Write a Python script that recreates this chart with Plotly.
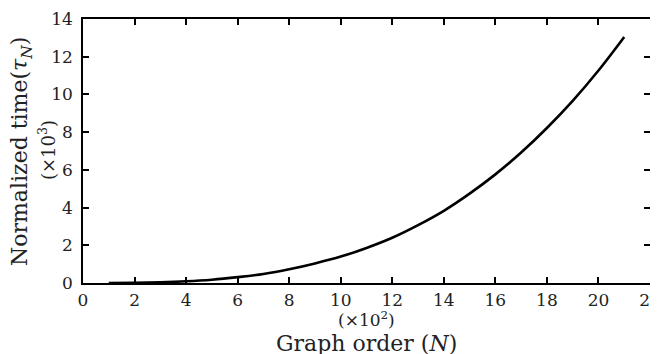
import plotly.graph_objects as go

# Graph order N (x10^2)
graph_order = [1, 2, 3, 4, 5, 6, 7, 8, 9, 10, 11, 12, 13, 14, 15, 16, 17, 18, 19, 20, 21]
# Normalized time tau_N (x10^3)
normalized_time = [0.002, 0.011, 0.038, 0.09, 0.176, 0.31, 0.48, 0.73, 1.04, 1.40,
                   1.86, 2.40, 3.07, 3.83, 4.74, 5.76, 6.92, 8.22, 9.66, 11.27, 13.05]

x_ticks = list(range(0, 23, 2))
y_ticks = list(range(0, 15, 2))

FONT = "DejaVu Serif"
OFF = 8  # page body margin of the browser
W, H = 658 - OFF, 354 - OFF
L, R, T, B = 83 - OFF, 8, 19 - OFF, 354 - 283
pw, ph = W - L - R, H - T - B

def px(x):
    return (x - OFF - L) / pw

def py(y):
    return (T + ph - (y - OFF)) / ph

fig = go.Figure()
fig.add_trace(go.Scatter(x=graph_order, y=normalized_time, mode="lines",
                         line=dict(color="black", width=2.6, shape="spline"),
                         showlegend=False, cliponaxis=False))

axis_common = dict(showline=True, linecolor="black", linewidth=1.6, mirror="ticks",
                   ticks="inside", ticklen=6, tickwidth=1.5, tickcolor="black",
                   showgrid=False, zeroline=False, automargin=False,
                   ticklabeloverflow="allow",
                   tickfont=dict(family=FONT, size=17, color="#222"))

fig.update_xaxes(range=[0, 22], tickvals=x_ticks, ticktext=[str(v) for v in x_ticks],
                 ticklabelstandoff=1, **axis_common)
fig.update_yaxes(range=[0, 14], tickvals=y_ticks, ticktext=[str(v) for v in y_ticks],
                 ticklabelstandoff=5, **axis_common)

anns = [
    dict(text="Normalized time(<i>τ</i><sub><i>N</i></sub>)", x=px(21), y=py(152), textangle=-90,
         font=dict(size=22)),
    dict(text="(×10<sup>3</sup>)", x=px(47), y=py(150), textangle=-90, font=dict(size=18)),
    dict(text="(×10<sup>2</sup>)", x=px(366), y=py(319), font=dict(size=17)),
    dict(text="Graph order (<i>N</i>)", x=px(366), y=py(343), font=dict(size=22)),
]
for a in anns:
    a["font"].update(family=FONT, color="#222")
    fig.add_annotation(xref="paper", yref="paper", showarrow=False,
                       xanchor="center", yanchor="middle", **a)

fig.update_layout(width=W, height=H, margin=dict(l=L, r=R, t=T, b=B, autoexpand=False),
                  plot_bgcolor="white", paper_bgcolor="white")

fig.write_html("out.html")
